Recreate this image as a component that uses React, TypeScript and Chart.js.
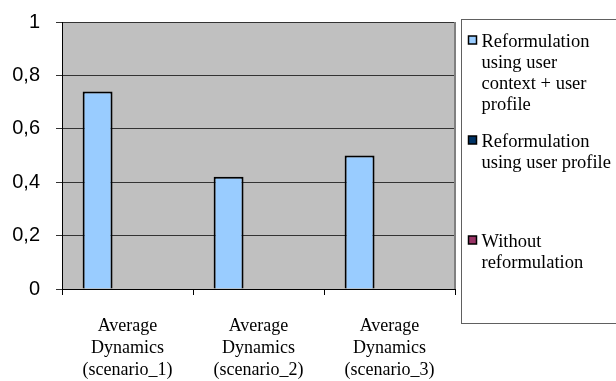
import React, { useEffect, useRef } from "react";
import { Chart, registerables } from "chart.js";

Chart.register(...registerables);

const categories: string[][] = [
  ["Average", "Dynamics", "(scenario_1)"],
  ["Average", "Dynamics", "(scenario_2)"],
  ["Average", "Dynamics", "(scenario_3)"],
];
const legendLines: string[][] = [
  ["Reformulation", "using user", "context + user", "profile"],
  ["Reformulation", "using user profile"],
  ["Without", "reformulation"],
];
const seriesLabels = legendLines.map((l) => l.join(" "));
const seriesColors = ["#99CCFF", "#003366", "#993366"];
const contextAndProfile = [0.74, 0.42, 0.5];
const profileOnly = [0, 0, 0];
const withoutReformulation = [0, 0, 0];
const yTickLabels = ["0", "0,2", "0,4", "0,6", "0,8", "1"];

const plotPlugin = {
  id: "plotDecor",
  beforeDraw(chart: any) {
    const { ctx, chartArea } = chart;
    ctx.save();
    ctx.fillStyle = "#C0C0C0";
    ctx.fillRect(chartArea.left, chartArea.top, chartArea.right - chartArea.left, chartArea.bottom - chartArea.top);
    ctx.restore();
  },
  afterDraw(chart: any) {
    const { ctx, chartArea } = chart;
    ctx.save();
    ctx.strokeStyle = "#808080";
    ctx.lineWidth = 2;
    ctx.beginPath();
    ctx.moveTo(chartArea.right, chartArea.top);
    ctx.lineTo(chartArea.right, chartArea.bottom);
    ctx.stroke();

    const boxLeft = Math.round(chartArea.right) + 6.5;
    const boxTop = 19.5;
    const boxBottom = 323.5;
    ctx.strokeStyle = "#606060";
    ctx.lineWidth = 1;
    ctx.strokeRect(boxLeft, boxTop, 700 - boxLeft, boxBottom - boxTop);

    ctx.font = '18.5px "Liberation Serif"';
    ctx.textBaseline = "middle";
    const textX = boxLeft + 20;
    const lineH = 21;
    chart.data.datasets.forEach((ds: any, i: number) => {
      const lines = legendLines[i];
      const y0 = 42 + i * 100;
      ctx.fillStyle = ds.backgroundColor;
      ctx.fillRect(boxLeft + 7, y0 - 6, 8, 8);
      ctx.strokeStyle = "#000";
      ctx.lineWidth = 1.5;
      ctx.strokeRect(boxLeft + 7, y0 - 6, 8, 8);
      ctx.fillStyle = "#000";
      lines.forEach((ln, k) => ctx.fillText(ln, textX, y0 + k * lineH));
    });
    ctx.restore();
  },
};

export default function App() {
  const ref = useRef<HTMLCanvasElement>(null);
  useEffect(() => {
    if (!ref.current) return;
    const mk = (idx: number, data: number[]) => ({
      label: seriesLabels[idx],
      data,
      backgroundColor: seriesColors[idx],
      borderColor: "#000",
      borderWidth: 2,
      categoryPercentage: 0.685,
      barPercentage: 1,
    });
    const chart = new Chart(ref.current, {
      type: "bar",
      data: {
        labels: categories,
        datasets: [mk(0, contextAndProfile), mk(1, profileOnly), mk(2, withoutReformulation)],
      },
      options: {
        animation: false,
        responsive: false,
        maintainAspectRatio: false,
        layout: { padding: { top: 22, right: 161, left: 0, bottom: 0 } },
        plugins: { legend: { display: false }, tooltip: { enabled: false } },
        scales: {
          x: {
            grid: { offset: true, drawOnChartArea: false, tickLength: 6, color: "#000" },
            border: { color: "#000", width: 1 },
            ticks: {
              color: "#000",
              maxRotation: 0,
              padding: 20,
              font: { family: '"Liberation Serif"', size: 18, lineHeight: 1.222 },
            },
            afterFit: (s: any) => {
              s.height = 92;
            },
          },
          y: {
            min: 0,
            max: 1,
            ticks: {
              stepSize: 0.2,
              color: "#000",
              padding: 16,
              font: { family: '"Liberation Sans"', size: 20 },
              callback: (_v: any, i: number) => yTickLabels[i],
            },
            grid: { color: "#333", tickLength: 6 },
            border: { color: "#000", width: 1 },
            afterFit: (s: any) => {
              s.width = 62;
              s.paddingTop = 0;
              s.paddingBottom = 0;
            },
          },
        },
      },
      plugins: [plotPlugin],
    });
    return () => chart.destroy();
  }, []);
  return (
    <div style={{ position: "fixed", left: 0, top: 0, width: 616, height: 381, background: "#fff" }}>
      <canvas ref={ref} width={616} height={381} style={{ width: 616, height: 381 }} />
    </div>
  );
}
